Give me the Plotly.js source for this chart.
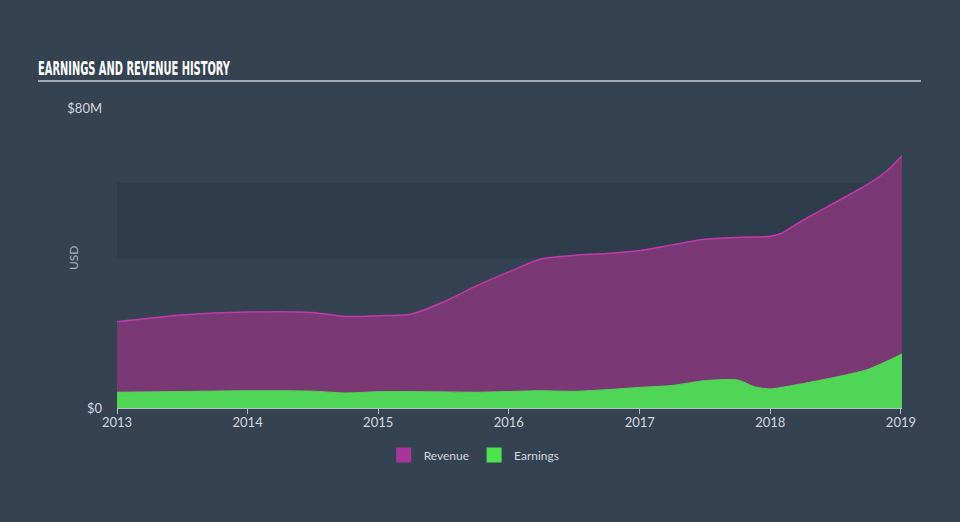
<!DOCTYPE html>
<html>
<head>
<meta charset="utf-8">
<script src="https://cdn.plot.ly/plotly-3.0.1.min.js"></script>
<style>
html,body{margin:0;padding:0;background:#344252;}
#chart{width:960px;height:522px;}
</style>
</head>
<body>
<div id="chart"></div>
<script>
// Dates of the data points
const revenueDates = ['2013-01-01','2013-07-01','2014-01-01','2014-07-01','2014-10-01','2015-01-01','2015-04-01','2015-07-01','2015-10-01','2016-01-01','2016-04-01','2016-07-01','2016-10-01','2017-01-01','2017-04-01','2017-07-01','2017-10-01','2018-01-01','2018-02-01','2018-04-01','2018-07-01','2018-10-01','2018-11-20','2019-01-04'];
// Revenue, $M
const revenue = [23.0,24.8,25.6,25.5,24.4,24.6,25.0,28.2,32.5,36.3,39.8,40.7,41.2,42.0,43.5,45.0,45.5,45.8,46.6,50.0,54.8,59.7,63.0,67.2];

const earningsDates = ['2013-01-01','2013-07-01','2014-01-01','2014-07-01','2014-10-01','2015-01-01','2015-07-01','2015-10-01','2016-01-01','2016-04-01','2016-07-01','2016-10-01','2017-01-01','2017-04-01','2017-07-01','2017-10-01','2017-11-20','2018-01-01','2018-04-01','2018-07-01','2018-10-01','2019-01-04'];
// Earnings, $M
const earnings = [4.2,4.4,4.6,4.5,4.0,4.35,4.3,4.2,4.4,4.6,4.45,4.9,5.5,6.0,7.3,7.5,5.6,5.1,6.5,8.2,10.3,14.4];

const yTickVals = [0, 80];
const yTickText = ['$0', '$80M'];
const xTickVals = ['2013-01-01','2014-01-01','2015-01-01','2016-01-01','2017-01-01','2018-01-01','2019-01-01'];
const xTickText = ['2013','2014','2015','2016','2017','2018','2019'];
const bandRange = [40, 60];
const bandDates = ['2013-01-01','2018-09-20'];

const seriesNames = ['Revenue', 'Earnings'];
const legendColors = ['#a8369a', '#4fe24f'];

const traces = [
  {
    name: seriesNames[0], x: revenueDates, y: revenue, type: 'scatter', mode: 'lines',
    fill: 'tozeroy', fillcolor: '#7a3974', legendgroup: 'rev', showlegend: false,
    line: {color: '#c23aab', width: 1.5, shape: 'spline', smoothing: 0.6},
    hoverinfo: 'x+y'
  },
  {
    name: seriesNames[1], x: earningsDates, y: earnings, type: 'scatter', mode: 'lines',
    fill: 'tozeroy', fillcolor: '#50d656', legendgroup: 'earn', showlegend: false,
    line: {color: '#50d656', width: 1, shape: 'spline', smoothing: 0.6},
    hoverinfo: 'x+y'
  },
  {
    name: seriesNames[0], x: [null], y: [null], type: 'scatter', mode: 'markers', legendgroup: 'rev',
    marker: {symbol: 'square', size: 15, color: legendColors[0]}, hoverinfo: 'skip'
  },
  {
    name: seriesNames[1], x: [null], y: [null], type: 'scatter', mode: 'markers', legendgroup: 'earn',
    marker: {symbol: 'square', size: 15, color: legendColors[1]}, hoverinfo: 'skip'
  }
];

const tickFont = {family: 'Lato, "Open Sans", sans-serif', size: 13, color: '#d4d8de'};

const layout = {
  width: 960, height: 522,
  paper_bgcolor: '#344252', plot_bgcolor: 'rgba(0,0,0,0)',
  margin: {l: 117, r: 58, t: 108, b: 114},
  showlegend: true,
  legend: {orientation: 'h', x: 0.455, xanchor: 'center', y: -0.108, yanchor: 'top',
           font: {family: 'Lato, "Open Sans", sans-serif', size: 12, color: '#d4d8de'},
           itemwidth: 30, traceorder: 'normal'},
  title: {
    text: '<b>EARNINGS AND REVENUE HISTORY</b>',
    xref: 'container', yref: 'container', x: 38/960, xanchor: 'left', y: 1 - 68/522, yanchor: 'middle',
    font: {family: '"DejaVu Sans Condensed", "Liberation Sans Narrow", "Arial Narrow", sans-serif', size: 19, color: '#ffffff'}
  },
  xaxis: {
    type: 'date', range: ['2013-01-01', '2019-01-04'],
    tickvals: xTickVals, ticktext: xTickText,
    showgrid: false, zeroline: false,
    showline: true, linecolor: '#b8bec8', linewidth: 1,
    ticks: 'outside', ticklen: 5, tickcolor: '#b8bec8', tickwidth: 1,
    ticklabelstandoff: -3,
    tickfont: tickFont, fixedrange: true
  },
  yaxis: {
    range: [0, 80], tickvals: yTickVals, ticktext: yTickText,
    showgrid: false, zeroline: false, showline: false, ticks: '',
    ticklabelstandoff: 14,
    tickfont: tickFont,
    fixedrange: true
  },
  annotations: [
    {text: 'USD', xref: 'paper', yref: 'paper', x: (73-117)/785, y: (408-258)/300, xanchor: 'center', yanchor: 'middle',
     textangle: -90, showarrow: false, font: {family: 'Lato, "Open Sans", sans-serif', size: 12, color: '#aab2bd'}}
  ],
  shapes: [
    {type: 'rect', xref: 'x', yref: 'y', x0: bandDates[0], x1: bandDates[1], y0: bandRange[0], y1: bandRange[1],
     fillcolor: '#2e3c4c', line: {width: 0}, layer: 'below'},
    {type: 'line', xref: 'paper', yref: 'paper', x0: (38-117)/785, x1: (921-117)/785, y0: (408-81)/300, y1: (408-81)/300,
     line: {color: '#a3aab5', width: 2}}
  ]
};

Plotly.newPlot('chart', traces, layout, {displayModeBar: false, responsive: false}).then(function (gd) {
  // condense the title text to the narrow width of the original heading
  const t = gd.querySelector('.gtitle');
  if (t) {
    t.setAttribute('textLength', '192');
    t.setAttribute('lengthAdjust', 'spacingAndGlyphs');
  }
});
</script>
</body>
</html>
